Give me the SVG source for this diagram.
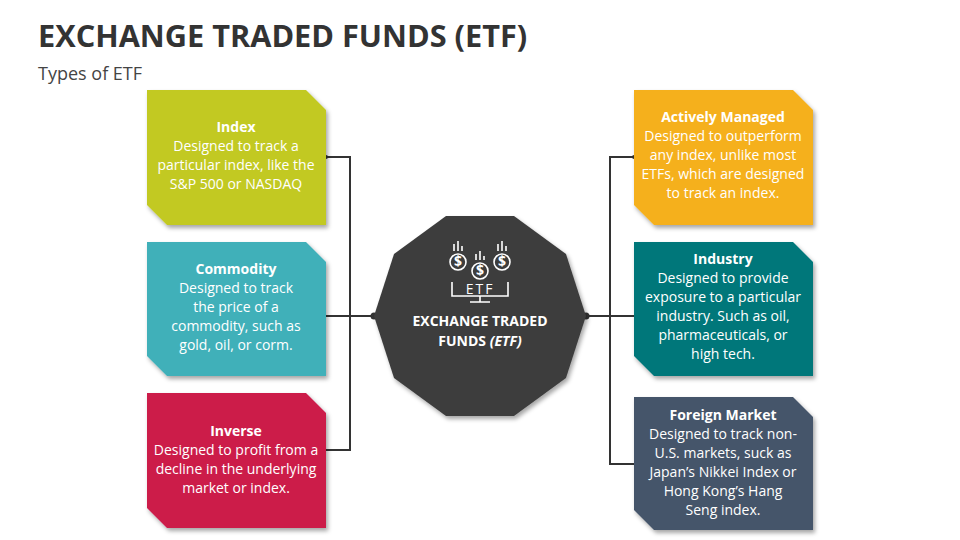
<svg xmlns="http://www.w3.org/2000/svg" width="960" height="540" viewBox="0 0 960 540">
<defs>
<filter id="sh" x="-10%" y="-10%" width="130%" height="130%"><feDropShadow dx="2" dy="3" stdDeviation="2" flood-opacity="0.35"/></filter>
<style>
.t{font-family:"Open Sans","Liberation Sans",sans-serif;fill:#fff;font-size:14px;text-anchor:middle}
.b{font-weight:bold}
.ln{stroke:#333;stroke-width:2;fill:none}
.ic{stroke:#fff;stroke-width:1.6;fill:none}
</style>
</defs>
<text x="38" y="47" font-family="Open Sans, Liberation Sans, sans-serif" font-weight="bold" font-size="30.7" fill="#333">EXCHANGE TRADED FUNDS (ETF)</text>
<text x="38" y="80" font-family="Open Sans, Liberation Sans, sans-serif" font-size="18" fill="#444">Types of ETF</text>
<g id="connectors">
<polyline class="ln" points="326,157 350,157 350,450 326,450"/>
<line class="ln" x1="326" y1="316" x2="374" y2="316"/>
<polyline class="ln" points="634,157 610,157 610,464 634,464"/>
<line class="ln" x1="586" y1="316" x2="634" y2="316"/>
<circle cx="374" cy="316" r="3.5" fill="#333"/><circle cx="586" cy="316" r="3.5" fill="#333"/>
<circle cx="326" cy="157" r="2" fill="#333"/><circle cx="634" cy="157" r="2" fill="#333"/>
</g>
<g id="center">
<polygon filter="url(#sh)" fill="#3d3d3d" points="586,316 566,254 514,216 446,216 394,254 374,316 394,378 446,416 514,416 566,378"/>
<g class="ic">
<circle cx="458" cy="262" r="8"/><circle cx="502" cy="262" r="8"/><circle cx="480" cy="271" r="8"/>
<path d="M454,251v-7M458,251v-10M462,251v-5M498,251v-7M502,251v-10M506,251v-5M476,260v-6M480,260v-9M484,260v-4"/>
<path d="M452,282v14h56v-14M480,296v6M470,302h20"/>
</g>
<text class="t b" x="458" y="266" font-size="11">$</text><text class="t b" x="502" y="266" font-size="11">$</text><text class="t b" x="480" y="275" font-size="11">$</text>
<text class="t" x="480" y="294" font-size="11" letter-spacing="2">ETF</text>
<text class="t b" x="480" y="326" font-size="15.5">EXCHANGE TRADED</text>
<text class="t b" x="480" y="346" font-size="15.5">FUNDS <tspan font-style="italic">(ETF)</tspan></text>
</g>
<g id="index">
<polygon filter="url(#sh)" fill="#C2C923" points="147,90 306,90 326,110 326,225 167,225 147,205"/>
<text class="t"><tspan class="b" x="236" y="132">Index</tspan><tspan x="236" y="151">Designed to track a</tspan><tspan x="236" y="170">particular index, like the</tspan><tspan x="236" y="189">S&amp;P 500 or NASDAQ</tspan></text>
</g>
<g id="commodity">
<polygon filter="url(#sh)" fill="#3FB0B9" points="147,242 306,242 326,262 326,376 167,376 147,356"/>
<text class="t"><tspan class="b" x="236" y="274">Commodity</tspan><tspan x="236" y="293">Designed to track</tspan><tspan x="236" y="312">the price of a</tspan><tspan x="236" y="331">commodity, such as</tspan><tspan x="236" y="350">gold, oil, or corm.</tspan></text>
</g>
<g id="inverse">
<polygon filter="url(#sh)" fill="#CC1A4A" points="147,393 306,393 326,413 326,528 167,528 147,508"/>
<text class="t"><tspan class="b" x="236" y="436">Inverse</tspan><tspan x="236" y="455">Designed to profit from a</tspan><tspan x="236" y="474">decline in the underlying</tspan><tspan x="236" y="493">market or index.</tspan></text>
</g>
<g id="actively">
<polygon filter="url(#sh)" fill="#F5B01C" points="634,90 793,90 813,110 813,225 654,225 634,205"/>
<text class="t"><tspan class="b" x="723" y="122">Actively Managed</tspan><tspan x="723" y="141">Designed to outperform</tspan><tspan x="723" y="160">any index, unlike most</tspan><tspan x="723" y="179">ETFs, which are designed</tspan><tspan x="723" y="198">to track an index.</tspan></text>
</g>
<g id="industry">
<polygon filter="url(#sh)" fill="#00777A" points="634,242 793,242 813,262 813,376 654,376 634,356"/>
<text class="t"><tspan class="b" x="723" y="264">Industry</tspan><tspan x="723" y="283">Designed to provide</tspan><tspan x="723" y="302">exposure to a particular</tspan><tspan x="723" y="321">industry. Such as oil,</tspan><tspan x="723" y="340">pharmaceuticals, or</tspan><tspan x="723" y="359">high tech.</tspan></text>
</g>
<g id="foreign">
<polygon filter="url(#sh)" fill="#44546A" points="634,397 793,397 813,417 813,530 654,530 634,510"/>
<text class="t"><tspan class="b" x="723" y="420">Foreign Market</tspan><tspan x="723" y="439">Designed to track non-</tspan><tspan x="723" y="458">U.S. markets, suck as</tspan><tspan x="723" y="477">Japan’s Nikkei Index or</tspan><tspan x="723" y="496">Hong Kong’s Hang</tspan><tspan x="723" y="515">Seng index.</tspan></text>
</g>
</svg>
